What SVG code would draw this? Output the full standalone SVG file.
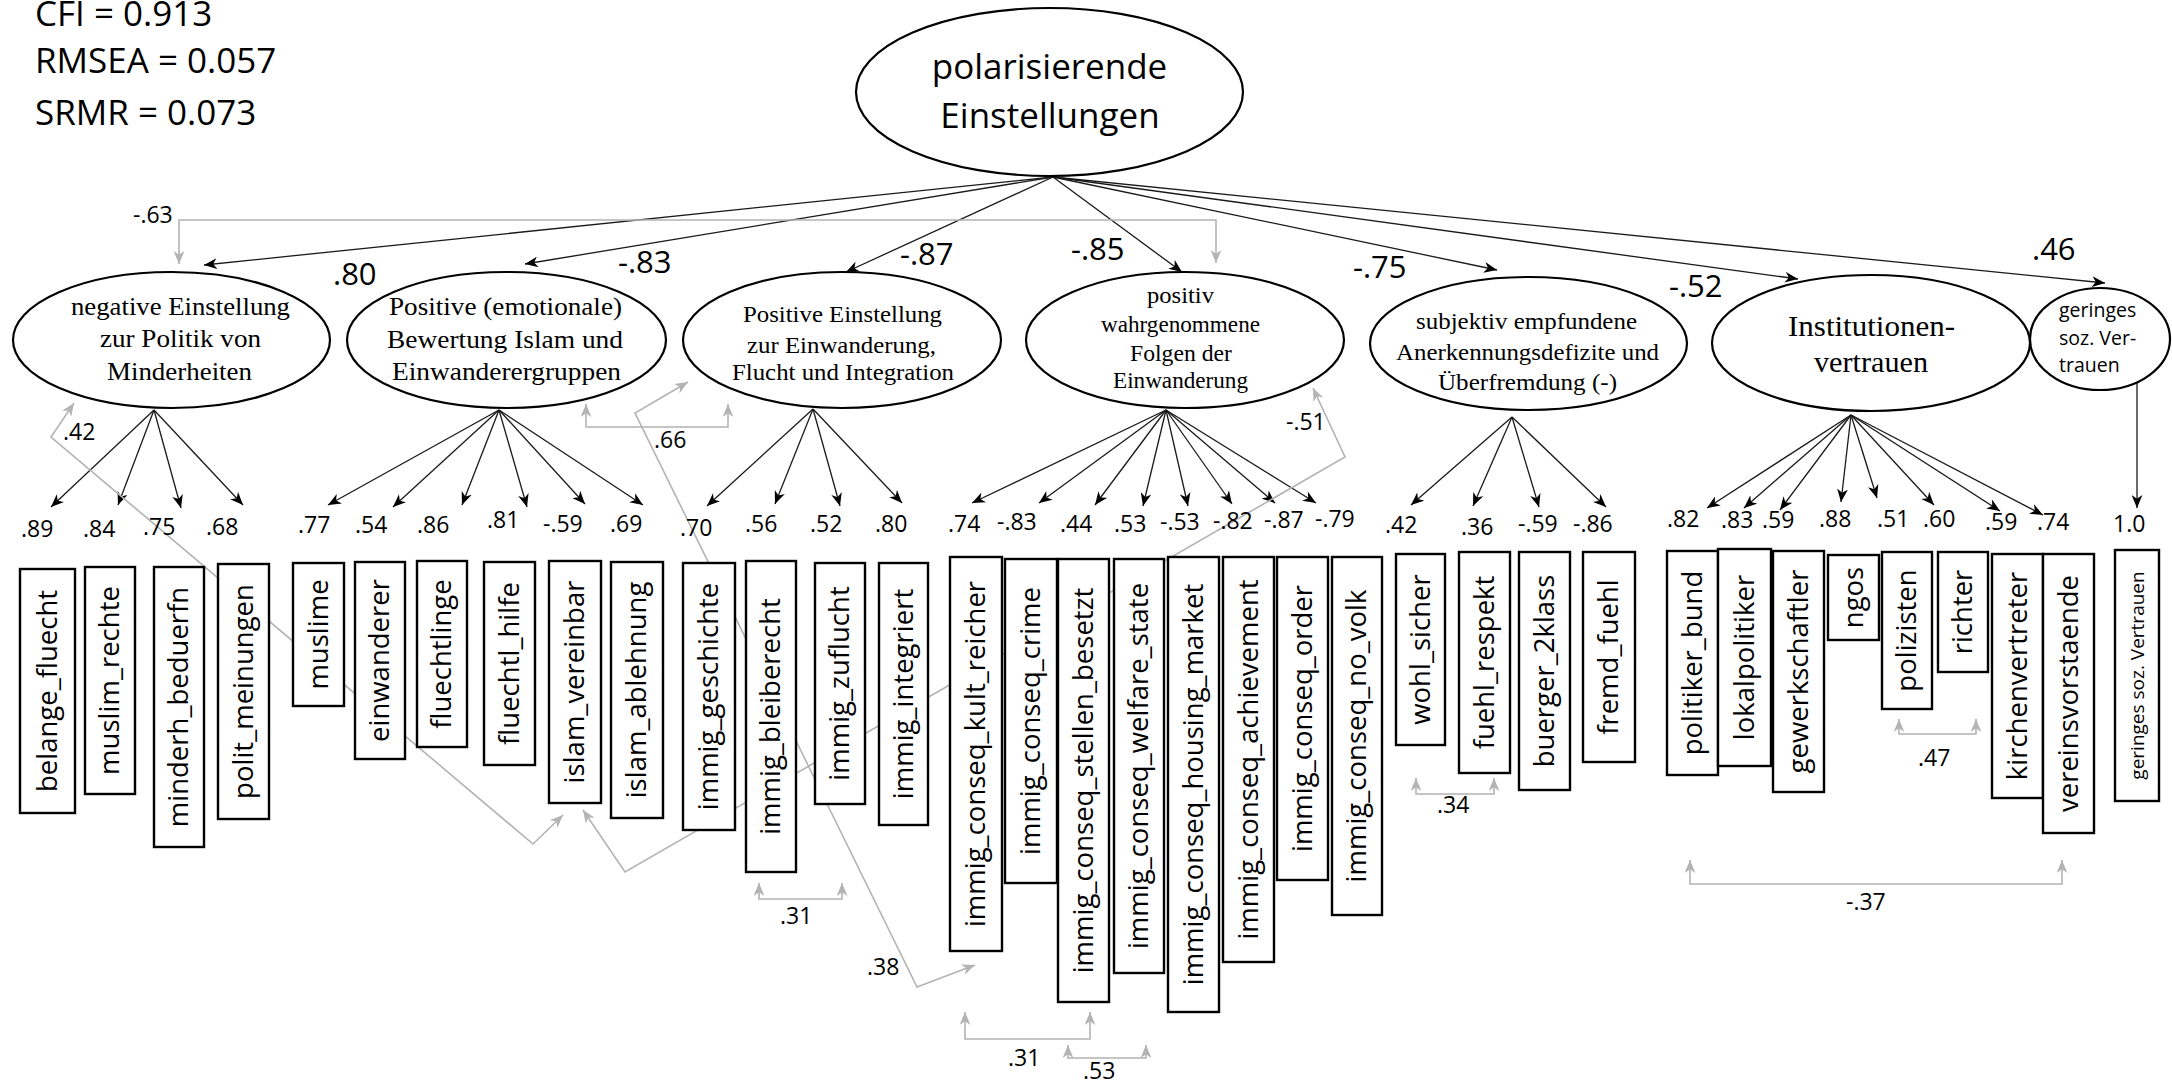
<svg xmlns="http://www.w3.org/2000/svg" width="2172" height="1082" viewBox="0 0 2172 1082">
<style>
.bg{fill:#fff}
.el{fill:#fff;stroke:#000;stroke-width:2.2}
.bx{fill:#fff;stroke:#000;stroke-width:2.4}
.ln{stroke:#1a1a1a;stroke-width:1.3;fill:none;marker-end:url(#ab)}
.gl{stroke:#b3b3b3;stroke-width:1.6;fill:none;marker-start:url(#ag);marker-end:url(#ag)}
.sf{font-family:"Liberation Serif","Times New Roman",serif;fill:#000;text-anchor:middle}
.ss{font-family:"Open Sans","Liberation Sans",sans-serif;fill:#000}
.fit{font-size:35px}
.big{font-size:31px}
.num{font-size:23px}
.vt{font-family:"Open Sans","Liberation Sans",sans-serif;font-size:27.5px;fill:#000;text-anchor:middle}
.vs{font-family:"Open Sans","Liberation Sans",sans-serif;font-size:19px;fill:#000;text-anchor:middle}
</style>
<defs>
<marker id="ab" viewBox="0 0 12 10" refX="12" refY="5" markerWidth="13" markerHeight="11" markerUnits="userSpaceOnUse" orient="auto"><path d="M0,0 L12,5 L0,10 L3.5,5 z" fill="#000"/></marker>
<marker id="ag" viewBox="0 0 12 10" refX="12" refY="5" markerWidth="13" markerHeight="11" markerUnits="userSpaceOnUse" orient="auto-start-reverse"><path d="M0,0 L12,5 L0,10 L3.5,5 z" fill="#b3b3b3"/></marker>
</defs>
<rect class="bg" x="0" y="0" width="2172" height="1082"/>

<g id="fit-indices" class="ss fit">
<text x="35" y="26">CFI = 0.913</text>
<text x="35" y="73">RMSEA = 0.057</text>
<text x="35" y="125">SRMR = 0.073</text>
</g>

<g id="connectors">
<g id="structural">
<line class="ln" x1="1053" y1="177" x2="204" y2="265"/>
<line class="ln" x1="1053" y1="177" x2="525" y2="264"/>
<line class="ln" x1="1053" y1="177" x2="846" y2="272"/>
<line class="ln" x1="1053" y1="177" x2="1182" y2="272"/>
<line class="ln" x1="1053" y1="177" x2="1497" y2="270"/>
<line class="ln" x1="1053" y1="177" x2="1798" y2="279"/>
<line class="ln" x1="1053" y1="177" x2="2105" y2="283"/>
</g>
<g id="loadings">
<line class="ln" x1="154" y1="410" x2="51" y2="507"/>
<line class="ln" x1="154" y1="410" x2="118" y2="505"/>
<line class="ln" x1="154" y1="410" x2="181" y2="508"/>
<line class="ln" x1="154" y1="410" x2="243" y2="505"/>
<line class="ln" x1="499" y1="410" x2="328" y2="505"/>
<line class="ln" x1="499" y1="410" x2="393" y2="507"/>
<line class="ln" x1="499" y1="410" x2="462" y2="505"/>
<line class="ln" x1="499" y1="410" x2="527" y2="507"/>
<line class="ln" x1="499" y1="410" x2="585" y2="504"/>
<line class="ln" x1="499" y1="410" x2="643" y2="505"/>
<line class="ln" x1="813" y1="409" x2="707" y2="506"/>
<line class="ln" x1="813" y1="409" x2="775" y2="504"/>
<line class="ln" x1="813" y1="409" x2="840" y2="506"/>
<line class="ln" x1="813" y1="409" x2="902" y2="503"/>
<line class="ln" x1="1166" y1="410" x2="972" y2="503"/>
<line class="ln" x1="1166" y1="410" x2="1039" y2="503"/>
<line class="ln" x1="1166" y1="410" x2="1095" y2="505"/>
<line class="ln" x1="1166" y1="410" x2="1143" y2="506"/>
<line class="ln" x1="1166" y1="410" x2="1188" y2="506"/>
<line class="ln" x1="1166" y1="410" x2="1232" y2="504"/>
<line class="ln" x1="1166" y1="410" x2="1275" y2="503"/>
<line class="ln" x1="1166" y1="410" x2="1316" y2="503"/>
<line class="ln" x1="1512" y1="417" x2="1411" y2="505"/>
<line class="ln" x1="1512" y1="417" x2="1473" y2="506"/>
<line class="ln" x1="1512" y1="417" x2="1539" y2="507"/>
<line class="ln" x1="1512" y1="417" x2="1606" y2="507"/>
<line class="ln" x1="1851" y1="415" x2="1707" y2="508"/>
<line class="ln" x1="1851" y1="415" x2="1744" y2="508"/>
<line class="ln" x1="1851" y1="415" x2="1780" y2="510"/>
<line class="ln" x1="1851" y1="415" x2="1841" y2="502"/>
<line class="ln" x1="1851" y1="415" x2="1877" y2="498"/>
<line class="ln" x1="1851" y1="415" x2="1934" y2="505"/>
<line class="ln" x1="1851" y1="415" x2="2000" y2="511"/>
<line class="ln" x1="1851" y1="415" x2="2043" y2="515"/>
<line class="ln" x1="2137" y1="383" x2="2137" y2="508"/>
</g>
<g id="correlations">
<path class="gl" d="M179,264 V220 H1216 V263"/>
<path class="gl" d="M586,404 V427 H728 V404"/>
<path class="gl" d="M74,403 L51,437 L533,844 L563,815"/>
<path class="gl" d="M688,382 L635,413 L917,987 L975,965"/>
<path class="gl" d="M1313,388 L1345,457 L625,872 L583,810"/>
<path class="gl" d="M759,883 V899 H842 V883"/>
<path class="gl" d="M965,1012 V1039 H1090 V1012"/>
<path class="gl" d="M1068,1045 V1058 H1146 V1045"/>
<path class="gl" d="M1416,778 V794 H1494 V778"/>
<path class="gl" d="M1899,719 V734 H1976 V719"/>
<path class="gl" d="M1690,860 V884 H2062 V860"/>
</g>
</g>

<g id="node-polarisierende">
<ellipse class="el" cx="1049.5" cy="92" rx="193.5" ry="84"/>
<text class="ss fit" x="1049.5" y="79" text-anchor="middle">polarisierende</text>
<text class="ss fit" x="1050" y="128" text-anchor="middle">Einstellungen</text>
</g>

<g id="node-minderheiten">
<ellipse class="el" cx="171.5" cy="340" rx="158.5" ry="68"/>
<text class="sf" font-size="26" x="180.5" y="315" textLength="219" lengthAdjust="spacingAndGlyphs">negative Einstellung</text>
<text class="sf" font-size="26" x="180.5" y="347" textLength="161" lengthAdjust="spacingAndGlyphs">zur Politik von</text>
<text class="sf" font-size="26" x="179.5" y="380" textLength="145" lengthAdjust="spacingAndGlyphs">Minderheiten</text>
</g>

<g id="node-islam">
<ellipse class="el" cx="506.5" cy="340" rx="159.5" ry="68"/>
<text class="sf" font-size="26" x="505.5" y="315" textLength="233" lengthAdjust="spacingAndGlyphs">Positive (emotionale)</text>
<text class="sf" font-size="26" x="505" y="348" textLength="236" lengthAdjust="spacingAndGlyphs">Bewertung Islam und</text>
<text class="sf" font-size="26" x="506.5" y="380" textLength="229" lengthAdjust="spacingAndGlyphs">Einwanderergruppen</text>
</g>

<g id="node-einwanderung">
<ellipse class="el" cx="842" cy="340" rx="159" ry="68"/>
<text class="sf" font-size="24" x="842.5" y="322" textLength="199" lengthAdjust="spacingAndGlyphs">Positive Einstellung</text>
<text class="sf" font-size="24" x="841.5" y="353" textLength="189" lengthAdjust="spacingAndGlyphs">zur Einwanderung,</text>
<text class="sf" font-size="24" x="843" y="380" textLength="222" lengthAdjust="spacingAndGlyphs">Flucht und Integration</text>
</g>

<g id="node-folgen">
<ellipse class="el" cx="1185" cy="340" rx="159" ry="68"/>
<text class="sf" font-size="23" x="1180.5" y="303" textLength="67" lengthAdjust="spacingAndGlyphs">positiv</text>
<text class="sf" font-size="23" x="1180.5" y="332" textLength="159" lengthAdjust="spacingAndGlyphs">wahrgenommene</text>
<text class="sf" font-size="23" x="1181" y="361" textLength="102" lengthAdjust="spacingAndGlyphs">Folgen der</text>
<text class="sf" font-size="23" x="1180.5" y="388" textLength="135" lengthAdjust="spacingAndGlyphs">Einwanderung</text>
</g>

<g id="node-anerkennung">
<ellipse class="el" cx="1528.5" cy="343.5" rx="158.5" ry="66.5"/>
<text class="sf" font-size="24" x="1526.5" y="329" textLength="221" lengthAdjust="spacingAndGlyphs">subjektiv empfundene</text>
<text class="sf" font-size="24" x="1527.5" y="360" textLength="263" lengthAdjust="spacingAndGlyphs">Anerkennungsdefizite und</text>
<text class="sf" font-size="24" x="1527.5" y="390" textLength="179" lengthAdjust="spacingAndGlyphs">Überfremdung (-)</text>
</g>

<g id="node-institutionen">
<ellipse class="el" cx="1871" cy="343" rx="159" ry="68"/>
<text class="sf" font-size="30" x="1871.5" y="336" textLength="167" lengthAdjust="spacingAndGlyphs">Institutionen-</text>
<text class="sf" font-size="30" x="1871" y="372" textLength="114" lengthAdjust="spacingAndGlyphs">vertrauen</text>
</g>

<g id="node-sozvertrauen">
<ellipse class="el" cx="2100" cy="339" rx="70" ry="51"/>
<text class="ss" font-size="19.5" x="2059" y="317">geringes</text>
<text class="ss" font-size="19.5" x="2059" y="345">soz. Ver-</text>
<text class="ss" font-size="19.5" x="2059" y="372">trauen</text>
</g>

<g id="structural-labels" class="ss big">
<text x="333" y="285">.80</text>
<text x="618" y="273">-.83</text>
<text x="900" y="265">-.87</text>
<text x="1071" y="260">-.85</text>
<text x="1353" y="278">-.75</text>
<text x="1669" y="297">-.52</text>
<text x="2032" y="260">.46</text>
</g>

<g id="loading-labels" class="ss num">
<text x="21" y="537">.89</text>
<text x="83" y="537">.84</text>
<text x="143" y="535">.75</text>
<text x="206" y="535">.68</text>
<text x="298" y="533">.77</text>
<text x="355" y="533">.54</text>
<text x="417" y="533">.86</text>
<text x="487" y="528">.81</text>
<text x="543" y="532">-.59</text>
<text x="610" y="532">.69</text>
<text x="680" y="536">.70</text>
<text x="745" y="532">.56</text>
<text x="810" y="532">.52</text>
<text x="875" y="532">.80</text>
<text x="948" y="532">.74</text>
<text x="997" y="530">-.83</text>
<text x="1060" y="532">.44</text>
<text x="1114" y="532">.53</text>
<text x="1160" y="530">-.53</text>
<text x="1213" y="529">-.82</text>
<text x="1264" y="528">-.87</text>
<text x="1315" y="527">-.79</text>
<text x="1385" y="533">.42</text>
<text x="1461" y="535">.36</text>
<text x="1518" y="532">-.59</text>
<text x="1573" y="532">-.86</text>
<text x="1667" y="527">.82</text>
<text x="1721" y="528">.83</text>
<text x="1762" y="528">.59</text>
<text x="1819" y="527">.88</text>
<text x="1877" y="527">.51</text>
<text x="1923" y="527">.60</text>
<text x="1985" y="530">.59</text>
<text x="2037" y="530">.74</text>
<text x="2113" y="532">1.0</text>
</g>

<g id="correlation-labels" class="ss num">
<text x="133" y="223">-.63</text>
<text x="63" y="440">.42</text>
<text x="654" y="448">.66</text>
<text x="1286" y="430">-.51</text>
<text x="780" y="924">.31</text>
<text x="867" y="975">.38</text>
<text x="1008" y="1066">.31</text>
<text x="1083" y="1079">.53</text>
<text x="1437" y="813">.34</text>
<text x="1918" y="766">.47</text>
<text x="1846" y="910">-.37</text>
</g>

<g id="indicators">
<g id="ind-belange_fluecht"><rect class="bx" x="20" y="569" width="55" height="244"/><text class="vt" transform="translate(47.5,691) rotate(-90)" y="9">belange_fluecht</text></g>
<g id="ind-muslim_rechte"><rect class="bx" x="85" y="567" width="50" height="227"/><text class="vt" transform="translate(110,680.5) rotate(-90)" y="9">muslim_rechte</text></g>
<g id="ind-minderh_beduerfn"><rect class="bx" x="154" y="567" width="50" height="280"/><text class="vt" transform="translate(179,707) rotate(-90)" y="9">minderh_beduerfn</text></g>
<g id="ind-polit_meinungen"><rect class="bx" x="218" y="564" width="51" height="255"/><text class="vt" transform="translate(243.5,691.5) rotate(-90)" y="9">polit_meinungen</text></g>
<g id="ind-muslime"><rect class="bx" x="293" y="563" width="51" height="143"/><text class="vt" transform="translate(318.5,634.5) rotate(-90)" y="9">muslime</text></g>
<g id="ind-einwanderer"><rect class="bx" x="355" y="562" width="50" height="197"/><text class="vt" transform="translate(380,660.5) rotate(-90)" y="9">einwanderer</text></g>
<g id="ind-fluechtlinge"><rect class="bx" x="417" y="561" width="50" height="186"/><text class="vt" transform="translate(442,654) rotate(-90)" y="9">fluechtlinge</text></g>
<g id="ind-fluechtl_hilfe"><rect class="bx" x="484" y="562" width="51" height="203"/><text class="vt" transform="translate(509.5,663.5) rotate(-90)" y="9">fluechtl_hilfe</text></g>
<g id="ind-islam_vereinbar"><rect class="bx" x="549" y="561" width="52" height="242"/><text class="vt" transform="translate(575,682) rotate(-90)" y="9">islam_vereinbar</text></g>
<g id="ind-islam_ablehnung"><rect class="bx" x="611" y="562" width="52" height="256"/><text class="vt" transform="translate(637,690) rotate(-90)" y="9">islam_ablehnung</text></g>
<g id="ind-immig_geschichte"><rect class="bx" x="683" y="563" width="52" height="267"/><text class="vt" transform="translate(709,696.5) rotate(-90)" y="9">immig_geschichte</text></g>
<g id="ind-immig_bleiberecht"><rect class="bx" x="746" y="561" width="50" height="311"/><text class="vt" transform="translate(771,716.5) rotate(-90)" y="9">immig_bleiberecht</text></g>
<g id="ind-immig_zuflucht"><rect class="bx" x="815" y="563" width="50" height="241"/><text class="vt" transform="translate(840,683.5) rotate(-90)" y="9">immig_zuflucht</text></g>
<g id="ind-immig_integriert"><rect class="bx" x="879" y="563" width="49" height="262"/><text class="vt" transform="translate(903.5,694) rotate(-90)" y="9">immig_integriert</text></g>
<g id="ind-kult_reicher"><rect class="bx" x="950" y="557" width="52" height="394"/><text class="vt" transform="translate(976,754) rotate(-90)" y="9">immig_conseq_kult_reicher</text></g>
<g id="ind-crime"><rect class="bx" x="1005" y="559" width="52" height="324"/><text class="vt" transform="translate(1031,721) rotate(-90)" y="9">immig_conseq_crime</text></g>
<g id="ind-stellen_besetzt"><rect class="bx" x="1058" y="559" width="51" height="443"/><text class="vt" transform="translate(1083.5,780.5) rotate(-90)" y="9">immig_conseq_stellen_besetzt</text></g>
<g id="ind-welfare_state"><rect class="bx" x="1114" y="559" width="50" height="414"/><text class="vt" transform="translate(1139,766) rotate(-90)" y="9">immig_conseq_welfare_state</text></g>
<g id="ind-housing_market"><rect class="bx" x="1168" y="557" width="51" height="455"/><text class="vt" transform="translate(1193.5,784.5) rotate(-90)" y="9">immig_conseq_housing_market</text></g>
<g id="ind-achievement"><rect class="bx" x="1223" y="557" width="51" height="405"/><text class="vt" transform="translate(1248.5,759.5) rotate(-90)" y="9">immig_conseq_achievement</text></g>
<g id="ind-order"><rect class="bx" x="1277" y="557" width="51" height="323"/><text class="vt" transform="translate(1302.5,718.5) rotate(-90)" y="9">immig_conseq_order</text></g>
<g id="ind-no_volk"><rect class="bx" x="1332" y="557" width="50" height="358"/><text class="vt" transform="translate(1357,736) rotate(-90)" y="9">immig_conseq_no_volk</text></g>
<g id="ind-wohl_sicher"><rect class="bx" x="1396" y="554" width="49" height="191"/><text class="vt" transform="translate(1420.5,649.5) rotate(-90)" y="9">wohl_sicher</text></g>
<g id="ind-fuehl_respekt"><rect class="bx" x="1459" y="552" width="51" height="221"/><text class="vt" transform="translate(1484.5,662.5) rotate(-90)" y="9">fuehl_respekt</text></g>
<g id="ind-buerger_2klass"><rect class="bx" x="1519" y="552" width="51" height="238"/><text class="vt" transform="translate(1544.5,671) rotate(-90)" y="9">buerger_2klass</text></g>
<g id="ind-fremd_fuehl"><rect class="bx" x="1583" y="552" width="52" height="210"/><text class="vt" transform="translate(1609,657) rotate(-90)" y="9">fremd_fuehl</text></g>
<g id="ind-politiker_bund"><rect class="bx" x="1667" y="551" width="51" height="224"/><text class="vt" transform="translate(1692.5,663) rotate(-90)" y="9">politiker_bund</text></g>
<g id="ind-lokalpolitiker"><rect class="bx" x="1718" y="549" width="53" height="217"/><text class="vt" transform="translate(1744.5,657.5) rotate(-90)" y="9">lokalpolitiker</text></g>
<g id="ind-gewerkschaftler"><rect class="bx" x="1773" y="551" width="51" height="241"/><text class="vt" transform="translate(1798.5,671.5) rotate(-90)" y="9">gewerkschaftler</text></g>
<g id="ind-ngos"><rect class="bx" x="1828" y="555" width="51" height="85"/><text class="vt" transform="translate(1853.5,597.5) rotate(-90)" y="9">ngos</text></g>
<g id="ind-polizisten"><rect class="bx" x="1882" y="552" width="50" height="157"/><text class="vt" transform="translate(1907,630.5) rotate(-90)" y="9">polizisten</text></g>
<g id="ind-richter"><rect class="bx" x="1938" y="552" width="50" height="120"/><text class="vt" transform="translate(1963,612) rotate(-90)" y="9">richter</text></g>
<g id="ind-kirchenvertreter"><rect class="bx" x="1992" y="554" width="51" height="244"/><text class="vt" transform="translate(2017.5,676) rotate(-90)" y="9">kirchenvertreter</text></g>
<g id="ind-vereinsvorstaende"><rect class="bx" x="2043" y="554" width="51" height="279"/><text class="vt" transform="translate(2068.5,693.5) rotate(-90)" y="9">vereinsvorstaende</text></g>
<g id="ind-geringes"><rect class="bx" x="2115" y="550" width="44" height="251"/><text class="vs" transform="translate(2137,675.5) rotate(-90)" y="7">geringes soz. Vertrauen</text></g>
</g>
</svg>
